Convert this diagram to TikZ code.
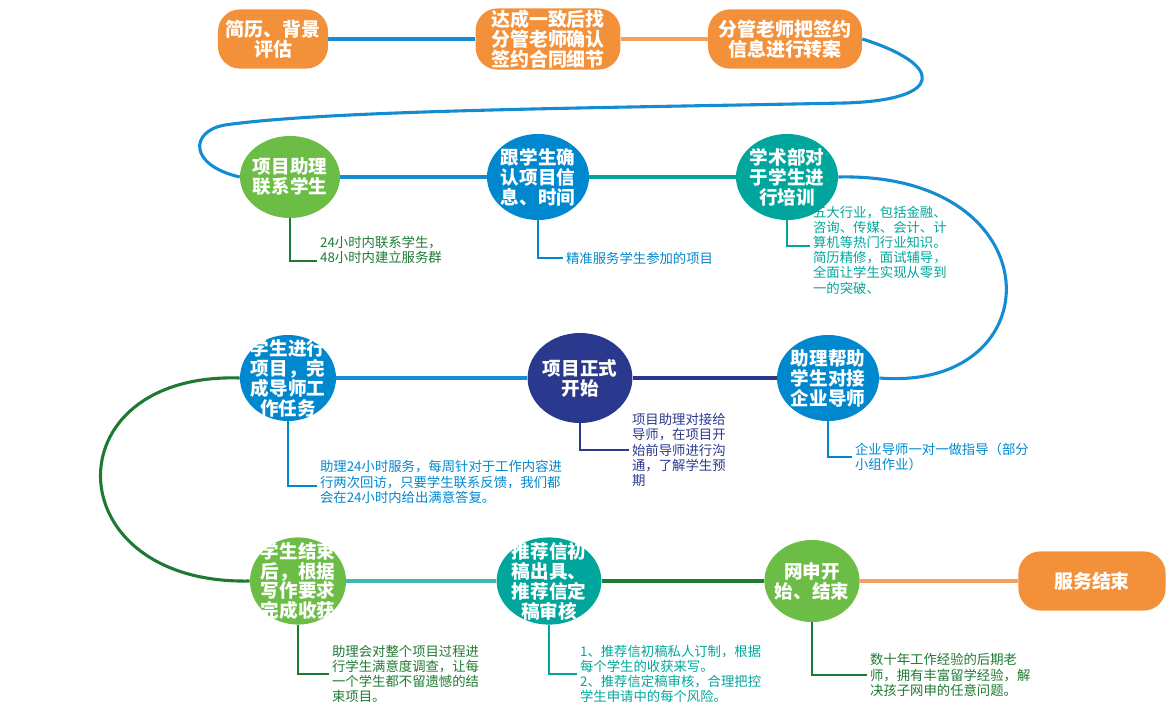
\documentclass[tikz,border=0pt]{standalone}
\usepackage{fontspec}
\usepackage{xcolor}
\newfontfamily\cjk{Noto Sans CJK SC}
\usetikzlibrary{shapes.geometric}

\definecolor{orangeC}{RGB}{243,144,58}
\definecolor{orangeL}{RGB}{245,160,95}
\definecolor{greenC}{RGB}{108,189,69}
\definecolor{greenD}{RGB}{30,122,50}
\definecolor{blueC}{RGB}{0,136,206}
\definecolor{blueL}{RGB}{20,140,210}
\definecolor{tealC}{RGB}{0,166,156}
\definecolor{tealL}{RGB}{60,185,180}
\definecolor{navyC}{RGB}{42,57,141}

\begin{document}
\begin{tikzpicture}[x=0.025cm, y=-0.025cm,
  stage/.style={rounded corners=0.55cm, fill=orangeC, text=white, align=center,
    font=\cjk\bfseries\fontsize{13.5}{14.2}\selectfont, minimum height=1.48cm, inner sep=1pt},
  phase/.style={ellipse, text=white, align=center, inner sep=-7pt,
    font=\cjk\bfseries\fontsize{13.2}{14.2}\selectfont, minimum width=2.55cm, minimum height=2.15cm},
  link/.style={line width=2.2pt},
  note/.style={anchor=west, align=left, inner sep=2pt, font=\cjk\fontsize{9.5}{10.8}\selectfont},
  noteline/.style={line width=1.2pt}]
\useasboundingbox (0,0) rectangle (1171,716);

% Row 1: contract
\node[stage, minimum width=2.75cm] (s1) at (273,39) {简历、背景\\评估};
\node[stage, minimum width=3.62cm] (s2) at (548,39) {达成一致后找\\分管老师确认\\签约合同细节};
\node[stage, minimum width=3.85cm] (s3) at (785,39) {分管老师把签约\\信息进行转案};

% Row 2
\node[phase, fill=greenC, minimum width=2.5cm, minimum height=2.05cm] (p4) at (290,177) {项目助理\\联系学生};
\node[phase, fill=blueC] (p5) at (538,177) {跟学生确\\认项目信\\息、时间};
\node[phase, fill=tealC] (p6) at (787,177) {学术部对\\于学生进\\行培训};

% Row 3
\node[phase, fill=blueC, minimum width=2.4cm] (p7) at (288,378) {学生进行\\项目，完\\成导师工\\作任务};
\node[phase, fill=navyC, minimum width=2.62cm, minimum height=2.25cm] (p8) at (580,378) {项目正式\\开始};
\node[phase, fill=blueC] (p9) at (828,378) {助理帮助\\学生对接\\企业导师};

% Row 4
\node[phase, fill=greenC, minimum width=2.4cm, minimum height=2.18cm] (p10) at (298,581) {学生结束\\后，根据\\写作要求\\完成收获};
\node[phase, fill=tealC, minimum width=2.62cm, minimum height=2.18cm] (p11) at (549,581) {推荐信初\\稿出具、\\推荐信定\\稿审核};
\node[phase, fill=greenC, minimum width=2.38cm, minimum height=2.05cm] (p12) at (812,581) {网申开\\始、结束};
\node[stage, minimum width=3.68cm] (s13) at (1092,581) {服务结束};

% connectors
\draw[link, blueL] (s1) -- (s2);
\draw[link, orangeL] (s2) -- (s3);
\draw[link, blueL] (s3.east) .. controls (945,65) and (945,100) .. (845,103)
  .. controls (600,108) and (330,110) .. (225,125)
  .. controls (190,131) and (188,165) .. (p4.west);
\draw[link, blueL] (p4) -- (p5);
\draw[link, tealC] (p5) -- (p6);
\draw[link, blueL] (p6.east) .. controls (1055,172) and (1055,392) .. (p9.east);
\draw[link, navyC] (p9) -- (p8);
\draw[link, blueL] (p8) -- (p7);
\draw[link, greenD] (p7.west) .. controls (50,372) and (55,585) .. (p10.west);
\draw[link, tealL] (p10) -- (p11);
\draw[link, greenD] (p11) -- (p12);
\draw[link, orangeL] (p12) -- (s13);

% notes
\node[note, text=greenD] (t4) at (317,250) {24小时内联系学生，\\48小时内建立服务群};
\node[note, text=blueC] (t5) at (563,258) {精准服务学生参加的项目};
\node[note, text=tealC] (t6) at (810,250) {五大行业，包括金融、\\咨询、传媒、会计、计\\算机等热门行业知识。\\简历精修，面试辅导，\\全面让学生实现从零到\\一的突破、};
\node[note, text=blueC] (t7) at (317,482) {助理24小时服务，每周针对于工作内容进\\行两次回访，只要学生联系反馈，我们都\\会在24小时内给出满意答复。};
\node[note, text=navyC] (t8) at (629,450) {项目助理对接给\\导师，在项目开\\始前导师进行沟\\通，了解学生预\\期};
\node[note, text=blueC] (t9) at (852,457) {企业导师一对一做指导（部分\\小组作业）};
\node[note, text=greenD] (t10) at (329,674) {助理会对整个项目过程进\\行学生满意度调查，让每\\一个学生都不留遗憾的结\\束项目。};
\node[note, text=tealC] (t11) at (577,674) {1、推荐信初稿私人订制，根据\\每个学生的收获来写。\\2、推荐信定稿审核，合理把控\\学生申请中的每个风险。};
\node[note, text=greenD] (t12) at (867,675) {数十年工作经验的后期老\\师，拥有丰富留学经验，解\\决孩子网申的任意问题。};

\draw[noteline, greenD] (p4.south) |- ([yshift=4pt]t4.south west);
\draw[noteline, blueC] (p5.south) |- (t5.west);
\draw[noteline, tealC] (p6.south) |- ([yshift=3pt]t6.west);
\draw[noteline, blueC] (p7.south) |- ([yshift=-3pt]t7.west);
\draw[noteline, navyC] (p8.south) |- (t8.west);
\draw[noteline, blueC] (p9.south) |- (t9.west);
\draw[noteline, greenD] (p10.south) |- (t10.west);
\draw[noteline, tealC] (p11.south) |- (t11.west);
\draw[noteline, greenD] (p12.south) |- (t12.west);
\end{tikzpicture}
\end{document}
